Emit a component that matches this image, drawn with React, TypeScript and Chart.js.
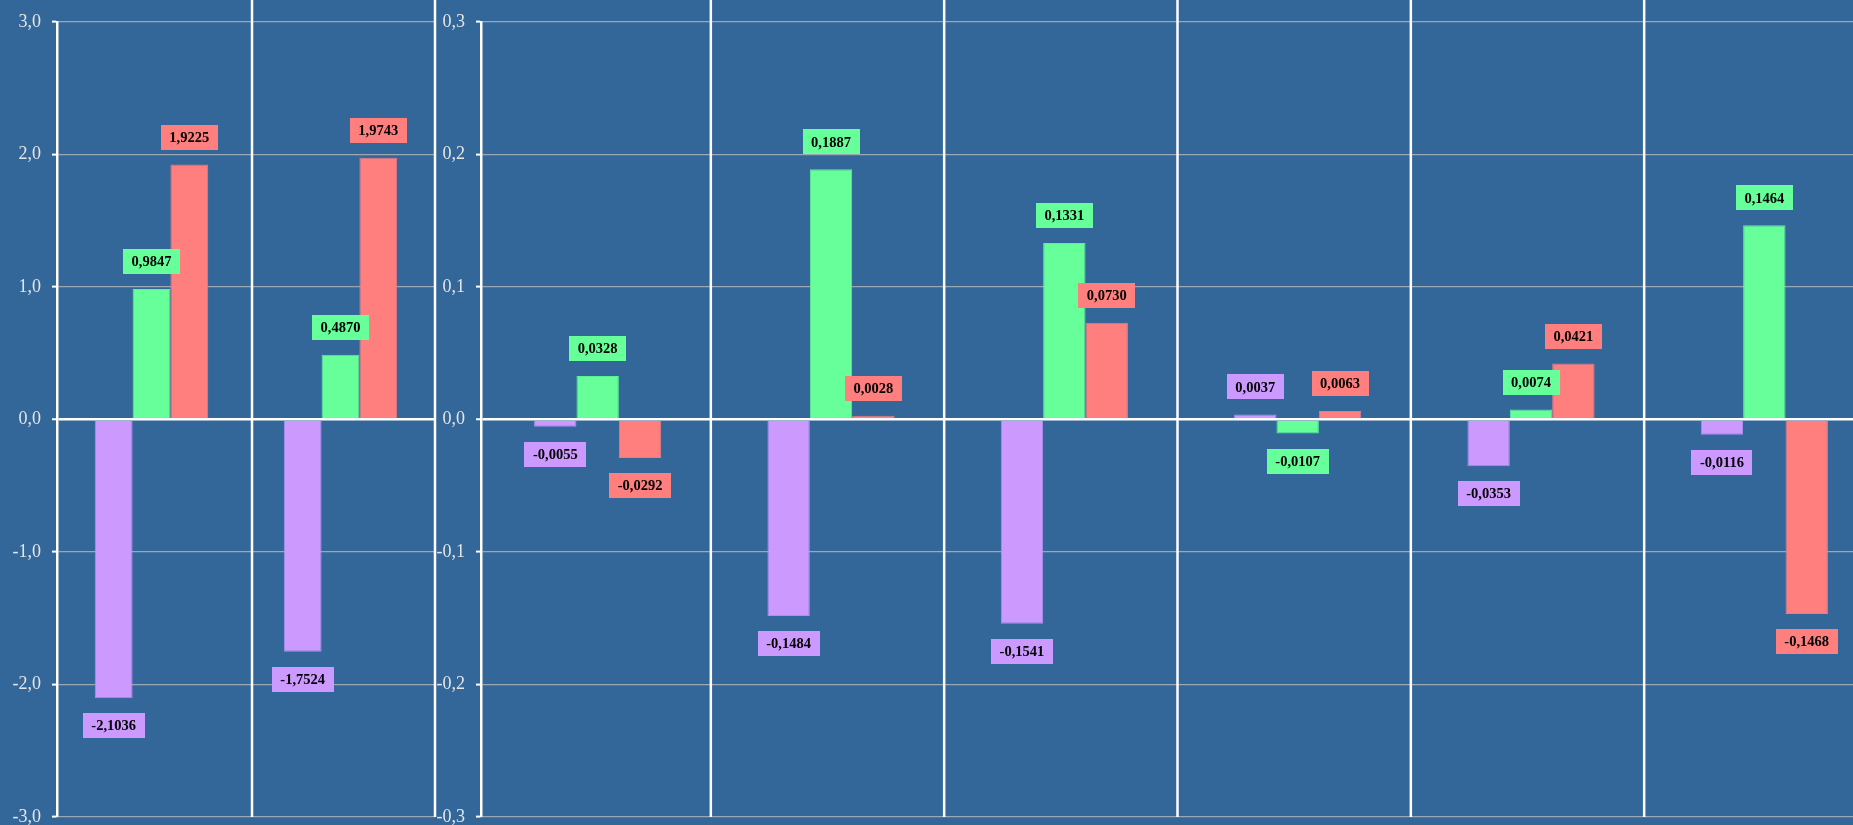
import React, { useEffect, useRef } from 'react';
import { Chart, registerables } from 'chart.js';

Chart.register(...registerables);

// ---- Data ----
const leftCategories = ['Grupo A', 'Grupo B'];
const leftPurple = [-2.1036, -1.7524];
const leftGreen = [0.9847, 0.487];
const leftRed = [1.9225, 1.9743];
const leftTicks = [-3, -2, -1, 0, 1, 2, 3];

const rightCategories = ['C1', 'C2', 'C3', 'C4', 'C5', 'C6'];
const rightPurple = [-0.0055, -0.1484, -0.1541, 0.0037, -0.0353, -0.0116];
const rightGreen = [0.0328, 0.1887, 0.1331, -0.0107, 0.0074, 0.1464];
const rightRed = [-0.0292, 0.0028, 0.073, 0.0063, 0.0421, -0.1468];
const rightTicks = [-0.3, -0.2, -0.1, 0, 0.1, 0.2, 0.3];

const PURPLE = '#cc99ff';
const GREEN = '#66ff99';
const RED = '#ff7f7f';
const BG = '#336699';
const SERIF = '"Liberation Serif", "Times New Roman", "DejaVu Serif", serif';

const fmtVal = (v: number) => v.toFixed(4).replace('.', ',');
const fmtTick = (v: number) => v.toFixed(1).replace('.', ',');

const overlayPlugin = {
  id: 'overlay',
  beforeDatasetsDraw(chart: any, _args: any, opts: any) {
    const { ctx, chartArea, scales } = chart;
    const xs = scales.x;
    const n = chart.data.labels.length;
    const shift = (opts && opts.shift) || 0;
    ctx.save();
    ctx.strokeStyle = '#ffffff';
    ctx.lineWidth = 2.5;
    for (let i = 0; i < n; i++) {
      let px: number;
      if (i < n - 1) {
        px = (xs.getPixelForValue(i) + xs.getPixelForValue(i + 1)) / 2 + shift;
      } else {
        px = chartArea.right;
      }
      ctx.beginPath();
      ctx.moveTo(px, 0);
      ctx.lineTo(px, chartArea.bottom);
      ctx.stroke();
    }
    ctx.restore();
  },
  afterDatasetsDraw(chart: any) {
    const { ctx } = chart;
    ctx.save();
    ctx.font = 'bold 14.5px ' + SERIF;
    ctx.textAlign = 'center';
    ctx.textBaseline = 'middle';
    chart.data.datasets.forEach((ds: any, di: number) => {
      const meta = chart.getDatasetMeta(di);
      meta.data.forEach((el: any, i: number) => {
        const v = ds.data[i] as number;
        const text = fmtVal(v);
        const w = ctx.measureText(text).width + 17;
        const h = 25;
        const cy = v >= 0 ? el.y - 27.5 : el.y + 27.5;
        ctx.fillStyle = ds.backgroundColor;
        ctx.fillRect(Math.round(el.x - w / 2), Math.round(cy - h / 2), Math.round(w), h);
        ctx.fillStyle = '#000000';
        ctx.fillText(text, el.x, cy + 1);
      });
    });
    ctx.restore();
  },
};

function makeConfig(
  labels: string[],
  purple: number[],
  green: number[],
  red: number[],
  ticks: number[],
  axisWidth: number,
  catPct: number,
  padRight: number,
  lineShift: number
): any {
  const min = ticks[0];
  const max = ticks[ticks.length - 1];
  return {
    type: 'bar',
    data: {
      labels,
      datasets: [
        { label: 'A', data: purple, backgroundColor: PURPLE, borderColor: '#b08ef0', borderWidth: 1 },
        { label: 'B', data: green, backgroundColor: GREEN, borderColor: '#5ef097', borderWidth: 1 },
        { label: 'C', data: red, backgroundColor: RED, borderColor: '#ec7a84', borderWidth: 1 },
      ],
    },
    options: {
      responsive: false,
      animation: false,
      layout: { padding: { top: 20, bottom: 23, left: 0, right: padRight } },
      plugins: {
        legend: { display: false },
        tooltip: { enabled: false },
        title: { display: false },
        overlay: { shift: lineShift },
      },
      datasets: { bar: { categoryPercentage: catPct, barPercentage: 1.0 } },
      scales: {
        x: { type: 'category', display: false, offset: true, grid: { display: false } },
        y: {
          type: 'linear',
          min,
          max,
          afterBuildTicks: (scale: any) => {
            scale.ticks = ticks.map((v) => ({ value: v }));
          },
          afterFit: (scale: any) => {
            scale.width = axisWidth;
          },
          ticks: {
            color: '#e6e6e6',
            padding: 11,
            font: { family: SERIF, size: 18 },
            callback: (v: any) => fmtTick(Number(v)),
          },
          grid: {
            color: (c: any) => (c.tick && Math.abs(c.tick.value) < 1e-9 ? '#ffffff' : 'rgba(190,190,190,0.75)'),
            lineWidth: (c: any) => (c.tick && Math.abs(c.tick.value) < 1e-9 ? 2.5 : 1.2),
            tickColor: '#ffffff',
            tickLength: 5,
            tickWidth: 2,
            drawTicks: true,
          },
          border: { display: true, color: '#ffffff', width: 2.5 },
        },
      },
    },
    plugins: [overlayPlugin],
  };
}

export default function App() {
  const leftRef = useRef<HTMLCanvasElement>(null);
  const rightRef = useRef<HTMLCanvasElement>(null);

  useEffect(() => {
    const c1 = new Chart(
      leftRef.current as HTMLCanvasElement,
      makeConfig(leftCategories, leftPurple, leftGreen, leftRed, leftTicks, 57, 0.6, 2, 6)
    );
    const c2 = new Chart(
      rightRef.current as HTMLCanvasElement,
      makeConfig(rightCategories, rightPurple, rightGreen, rightRed, rightTicks, 45, 0.545, 0, -3.5)
    );
    return () => {
      c1.destroy();
      c2.destroy();
    };
  }, []);

  return (
    <div
      style={{
        position: 'fixed',
        left: 0,
        top: 0,
        width: '100vw',
        height: '100vh',
        overflow: 'hidden',
        background: BG,
      }}
    >
      <canvas ref={leftRef} width={437} height={840} style={{ position: 'absolute', left: 0, top: 0 }} />
      <canvas ref={rightRef} width={1445} height={840} style={{ position: 'absolute', left: 436, top: 0 }} />
    </div>
  );
}
